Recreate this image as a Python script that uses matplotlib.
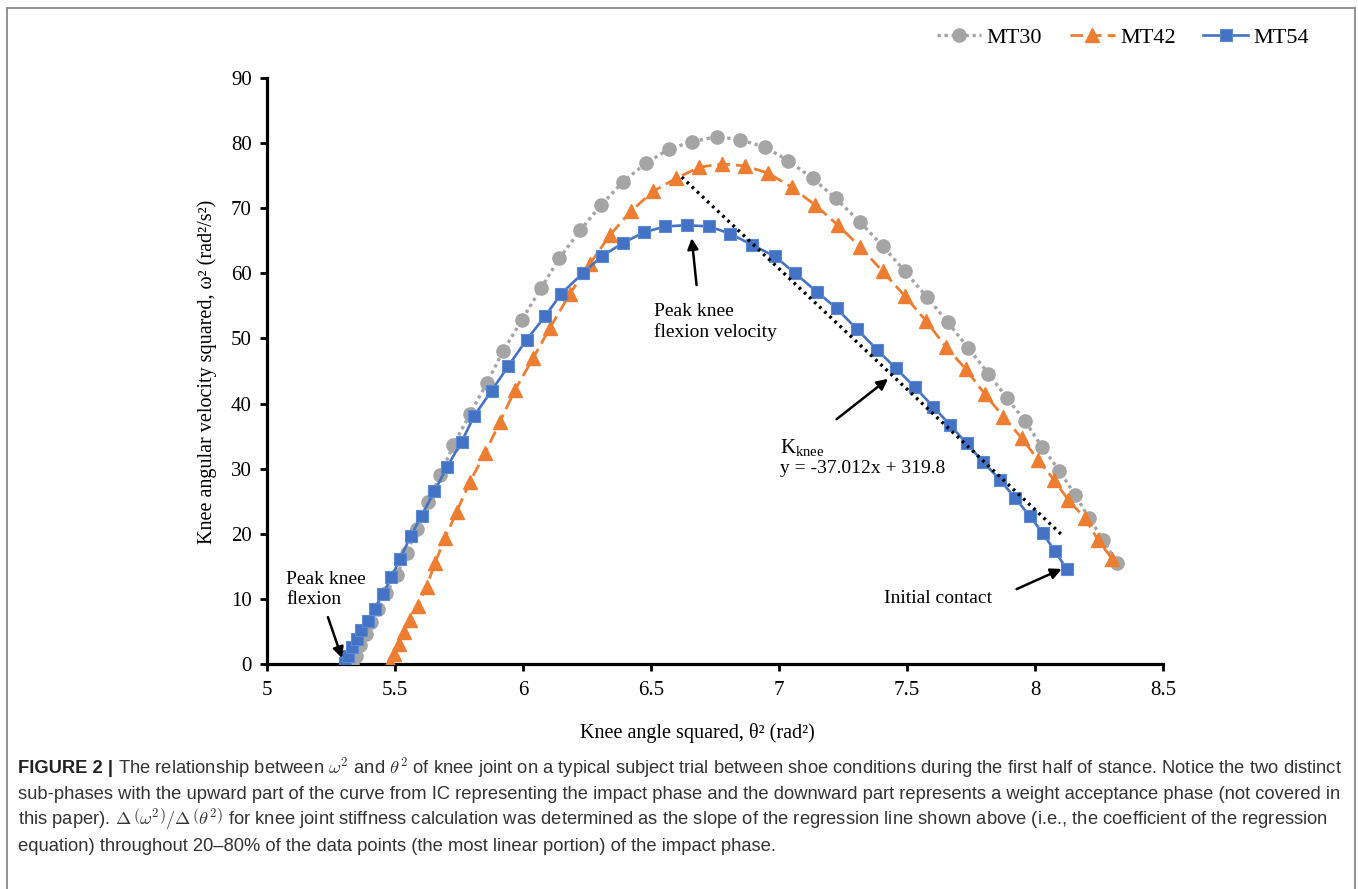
import matplotlib
matplotlib.use("Agg")
import matplotlib.pyplot as plt
from matplotlib.lines import Line2D
from matplotlib import font_manager as fm

# ---------------- data ----------------
series_names = ["MT30", "MT42", "MT54"]

x30 = [5.331, 5.346, 5.364, 5.385, 5.408, 5.434, 5.466, 5.507, 5.546, 5.585,
       5.630, 5.676, 5.728, 5.793, 5.858, 5.923, 5.995, 6.070, 6.142, 6.223,
       6.305, 6.392, 6.480, 6.571, 6.659, 6.757, 6.848, 6.945, 7.036, 7.131,
       7.222, 7.316, 7.405, 7.492, 7.577, 7.659, 7.740, 7.818, 7.892, 7.961,
       8.026, 8.095, 8.156, 8.212, 8.267, 8.319]
y30 = [0.1, 1.3, 2.9, 4.6, 6.4, 8.4, 10.9, 13.7, 17.0, 20.8,
       24.9, 29.0, 33.6, 38.4, 43.1, 48.1, 52.8, 57.7, 62.3, 66.6,
       70.5, 74.1, 76.9, 79.1, 80.2, 81.0, 80.5, 79.4, 77.3, 74.6,
       71.5, 67.9, 64.2, 60.3, 56.4, 52.5, 48.5, 44.6, 40.8, 37.3,
       33.4, 29.7, 26.0, 22.4, 19.0, 15.5]

x42 = [5.480, 5.497, 5.515, 5.535, 5.558, 5.588, 5.624, 5.656, 5.695, 5.741,
       5.793, 5.852, 5.910, 5.969, 6.040, 6.105, 6.184, 6.262, 6.340, 6.420,
       6.509, 6.598, 6.689, 6.776, 6.867, 6.958, 7.050, 7.141, 7.230, 7.316,
       7.405, 7.492, 7.574, 7.652, 7.729, 7.805, 7.876, 7.948, 8.013, 8.074,
       8.130, 8.195, 8.247, 8.300]
y42 = [0.2, 1.5, 3.1, 4.9, 6.8, 8.9, 11.9, 15.5, 19.3, 23.4,
       28.0, 32.4, 37.2, 42.1, 47.0, 51.6, 56.9, 61.5, 65.9, 69.5,
       72.6, 74.6, 76.3, 76.8, 76.5, 75.4, 73.2, 70.5, 67.4, 64.1,
       60.3, 56.5, 52.7, 48.7, 45.3, 41.4, 38.0, 34.7, 31.3, 28.3,
       25.2, 22.4, 19.0, 16.2]

x54 = [5.305, 5.318, 5.333, 5.350, 5.368, 5.394, 5.420, 5.454, 5.486, 5.520,
       5.561, 5.604, 5.654, 5.702, 5.760, 5.809, 5.878, 5.943, 6.014, 6.086,
       6.150, 6.233, 6.307, 6.392, 6.473, 6.555, 6.639, 6.727, 6.809, 6.893,
       6.984, 7.063, 7.147, 7.225, 7.303, 7.382, 7.457, 7.531, 7.603, 7.668,
       7.733, 7.798, 7.863, 7.922, 7.980, 8.030, 8.078, 8.124]
y54 = [0.2, 1.2, 2.6, 3.9, 5.2, 6.6, 8.5, 10.8, 13.3, 16.2,
       19.6, 22.8, 26.5, 30.2, 34.1, 38.1, 42.0, 45.8, 49.8, 53.4,
       56.9, 60.0, 62.6, 64.7, 66.3, 67.2, 67.4, 67.2, 66.1, 64.4,
       62.6, 60.0, 57.2, 54.6, 51.5, 48.3, 45.4, 42.5, 39.5, 36.7,
       33.9, 31.0, 28.3, 25.5, 22.7, 20.1, 17.3, 14.6]

# regression line of MT54 (20-80 % of impact phase)
trend_slope = -37.012
trend_intercept = 319.8
trend_x = [6.62, 8.11]

xticks = [5, 5.5, 6, 6.5, 7, 7.5, 8, 8.5]
xtick_labels = ["5", "5.5", "6", "6.5", "7", "7.5", "8", "8.5"]
yticks = [0, 10, 20, 30, 40, 50, 60, 70, 80, 90]
ytick_labels = [str(v) for v in yticks]

x_label = "Knee angle squared, \u03b8\u00b2 (rad\u00b2)"
y_label = "Knee angular velocity squared, \u03c9\u00b2 (rad\u00b2/s\u00b2)"
equation_text = "y = -37.012x + 319.8"

caption_bold = "FIGURE 2 |"
caption_lines = [
    "The relationship between $\\omega^2$ and $\\theta^2$ of knee joint on a typical subject trial between shoe conditions during the first half of stance. Notice the two distinct",
    "sub-phases with the upward part of the curve from IC representing the impact phase and the downward part represents a weight acceptance phase (not covered in",
    "this paper). $\\Delta\\,\\left(\\omega^2\\right)/\\Delta\\,\\left(\\theta^2\\right)$ for knee joint stiffness calculation was determined as the slope of the regression line shown above (i.e., the coefficient of the regression",
    "equation) throughout 20\u201380% of the data points (the most linear portion) of the impact phase.",
]

# ---------------- figure ----------------
W, H = 1358, 889
plt.rcParams["font.family"] = ["Liberation Serif", "DejaVu Serif"]
plt.rcParams["mathtext.fontset"] = "custom"
plt.rcParams["mathtext.rm"] = "Liberation Serif"
plt.rcParams["mathtext.it"] = "Liberation Serif:italic"

fig = plt.figure(figsize=(W / 100, H / 100), dpi=100)
fig.patch.set_facecolor("white")


def fx(px):
    return px / W


def fy(py):
    return 1 - py / H


ax = fig.add_axes([fx(267), fy(664), (1163 - 267) / W, (664 - 78) / H])

c30, c42, c54 = "#A5A5A5", "#ED7D31", "#4472C4"
l30, = ax.plot(x30, y30, color=c30, ls=(0, (1, 1.1)), lw=2.4, marker="o",
               ms=9.5, mec=c30, mfc=c30, label=series_names[0], zorder=3)
l42, = ax.plot(x42, y42, color=c42, ls=(0, (4.5, 2.2)), lw=2.0, marker="^",
               ms=10, mec=c42, mfc=c42, label=series_names[1], zorder=4)
l54, = ax.plot(x54, y54, color=c54, ls="-", lw=1.9, marker="s",
               ms=8.5, mec="#5B8AD6", mfc=c54, mew=0.8, label=series_names[2], zorder=5)

ty = [trend_slope * v + trend_intercept for v in trend_x]
ax.plot(trend_x, ty, color="black", ls=(0, (0.8, 1.3)), lw=2.4, zorder=6)

ax.set_xlim(5, 8.5)
ax.set_ylim(0, 90)
ax.set_xticks(xticks)
ax.set_xticklabels(xtick_labels)
ax.set_yticks(yticks)
ax.set_yticklabels(ytick_labels)
for s in ["top", "right"]:
    ax.spines[s].set_visible(False)
for s in ["left", "bottom"]:
    ax.spines[s].set_linewidth(2.3)
    ax.spines[s].set_color("black")
ax.tick_params(axis="both", direction="out", length=5, width=2.0,
               labelsize=15, colors="black")
ax.tick_params(axis="y", pad=6)
ax.tick_params(axis="x", pad=7)

fig.text(fx(697), fy(733), x_label, ha="center", va="center", fontsize=14.5)
fig.text(fx(207), fy(372), y_label, ha="center", va="center", fontsize=14.5,
         rotation=90)

# ---------------- annotations ----------------
ap = dict(arrowstyle="-|>", color="black", lw=1.8, mutation_scale=16,
          shrinkA=0, shrinkB=0)
fs_ann = 14
ax.annotate("", xy=(5.293, 0.9), xytext=(5.238, 7.2), arrowprops=ap, zorder=7,
            annotation_clip=False)
ax.text(5.074, 11.4, "Peak knee\nflexion", ha="left", va="center",
        fontsize=fs_ann, linespacing=1.2)

ax.annotate("", xy=(6.659, 65.4), xytext=(6.678, 58.2), arrowprops=ap, zorder=7)
ax.text(6.51, 52.5, "Peak knee\nflexion velocity", ha="left", va="center",
        fontsize=fs_ann, linespacing=1.2)

ax.annotate("", xy=(7.426, 43.8), xytext=(7.225, 37.6), arrowprops=ap, zorder=7)
ax.text(7.004, 33.3, "$\\mathrm{K}_{\\mathrm{knee}}$", ha="left", va="center",
        fontsize=fs_ann + 1)
ax.text(7.004, 30.0, equation_text, ha="left", va="center", fontsize=fs_ann)

ax.annotate("", xy=(8.104, 14.6), xytext=(7.928, 11.5), arrowprops=ap, zorder=7)
ax.text(7.41, 10.0, "Initial contact", ha="left", va="center", fontsize=fs_ann)

# ---------------- legend ----------------
fig.legend(handles=[l30, l42, l54], labels=series_names, ncol=3,
           loc="center right", bbox_to_anchor=(fx(1318), fy(38)),
           frameon=False, fontsize=16, handlelength=2.0, handletextpad=0.25,
           columnspacing=1.25, borderaxespad=0)

# ---------------- frame ----------------
frame_col = "#8a8a8a"
for xs, ys in [([7, 1355], [8, 8]), ([7, 7], [8, 889]), ([1355, 1355], [8, 889])]:
    fig.add_artist(Line2D([fx(v) for v in xs], [fy(v) for v in ys],
                          color=frame_col, lw=1.3, transform=fig.transFigure))

# ---------------- caption ----------------
cap_font = ["Liberation Sans Narrow", "Liberation Sans", "DejaVu Sans"]
try:
    fm.findfont(fm.FontProperties(family="Liberation Sans Narrow"),
                fallback_to_default=False)
except Exception:
    cap_font = ["Liberation Sans", "DejaVu Sans"]

cap_x0 = 18
cap_target_w = 1340 - cap_x0
baselines = [773, 799, 825, 851]
cap_color = "#333333"

renderer = fig.canvas.get_renderer()


def draw_caption(fs):
    arts = []
    tb = fig.text(fx(cap_x0), fy(baselines[0]), caption_bold, family=cap_font,
                  fontsize=fs, fontweight="bold", color="#222222", va="baseline")
    arts.append(tb)
    wb = tb.get_window_extent(renderer).width
    t1 = fig.text(fx(cap_x0 + wb + fs * 0.35), fy(baselines[0]), caption_lines[0],
                  family=cap_font, fontsize=fs, color=cap_color, va="baseline",
                  math_fontfamily="cm")
    arts.append(t1)
    right = t1.get_window_extent(renderer).x1
    for i in range(1, 4):
        t = fig.text(fx(cap_x0), fy(baselines[i]), caption_lines[i],
                     family=cap_font, fontsize=fs, color=cap_color,
                     va="baseline", math_fontfamily="cm")
        arts.append(t)
    return arts, right


arts, right = draw_caption(12)
scale = cap_target_w / (right - cap_x0)
for a in arts:
    a.remove()
arts, right = draw_caption(12 * scale)

fig.savefig("out.png", dpi=100, facecolor="white")
